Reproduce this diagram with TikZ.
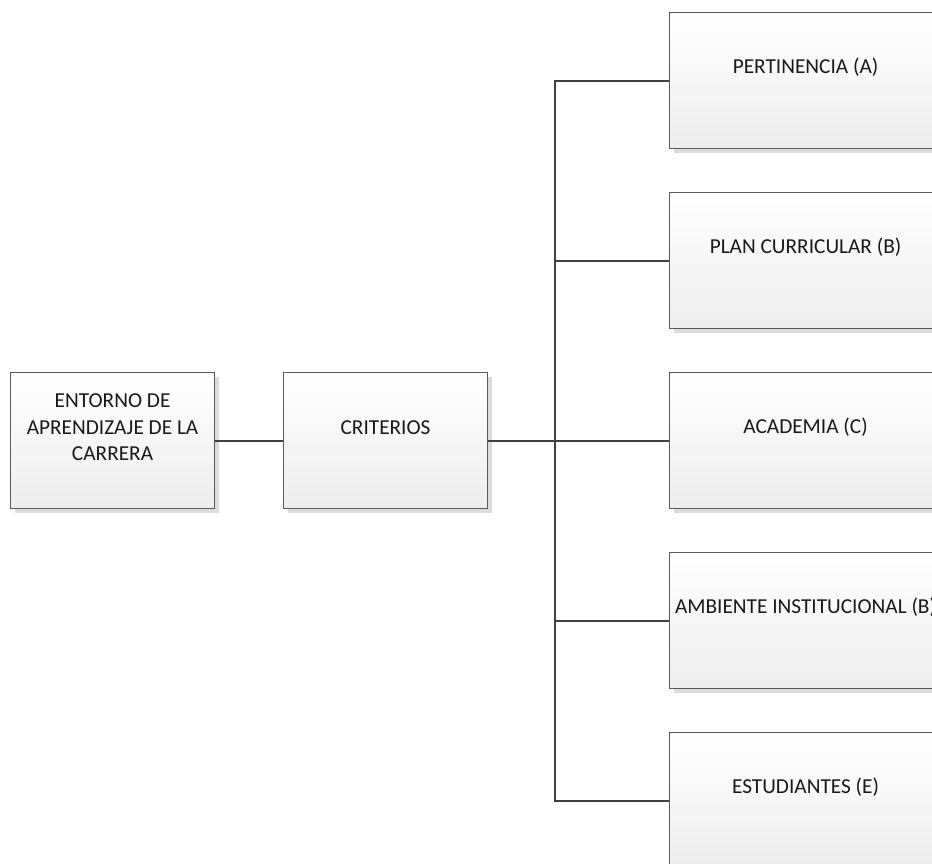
\documentclass[tikz,border=0pt]{standalone}
\usepackage{fontspec}
\setmainfont{Carlito}
\usetikzlibrary{shadows}
\definecolor{boxline}{HTML}{5A5A5A}
\definecolor{conn}{HTML}{404040}
\definecolor{shad}{HTML}{DCDCDC}
\begin{document}
\begin{tikzpicture}[x=1pt,y=-1pt,
  box/.style={draw=boxline, line width=1.1pt, top color=white, bottom color=black!7,
    drop shadow={shadow xshift=4pt, shadow yshift=-4pt, fill=shad, opacity=1},
    anchor=north west, inner sep=0pt},
  lbl/.style={font=\fontsize{21.3}{26.5}\selectfont, align=center, text=black!90, yshift=13pt},
  conn/.style={draw=conn, line width=2pt}]
\useasboundingbox (0,0) rectangle (932,864);
\clip (0,0) rectangle (932,864);
\node[box, minimum width=204pt, minimum height=136pt,
  label={[lbl]center:ENTORNO DE\\APRENDIZAJE DE LA\\CARRERA}] (ent) at (10,372) {};
\node[box, minimum width=204pt, minimum height=136pt,
  label={[lbl]center:CRITERIOS}] (crit) at (283,372) {};
\node[box, minimum width=272pt, minimum height=136pt,
  label={[lbl]center:PERTINENCIA (A)}] (pert) at (669,12) {};
\node[box, minimum width=272pt, minimum height=136pt,
  label={[lbl]center:PLAN CURRICULAR (B)}] (plan) at (669,192) {};
\node[box, minimum width=272pt, minimum height=136pt,
  label={[lbl]center:ACADEMIA (C)}] (acad) at (669,372) {};
\node[box, minimum width=272pt, minimum height=136pt,
  label={[lbl]center:AMBIENTE INSTITUCIONAL (B)}] (amb) at (669,552) {};
\node[box, minimum width=272pt, minimum height=136pt,
  label={[lbl]center:ESTUDIANTES (E)}] (est) at (669,732) {};
\coordinate (trunk) at (555,440);
\draw[conn] (ent.east) -- (crit.west);
\draw[conn] (crit.east) -- (crit.east -| trunk);
\draw[conn] (pert.west) -| (trunk |- est.west) -- (est.west);
\draw[conn] (plan.west) -- (plan.west -| trunk);
\draw[conn] (acad.west) -- (acad.west -| trunk);
\draw[conn] (amb.west) -- (amb.west -| trunk);
\end{tikzpicture}
\end{document}
